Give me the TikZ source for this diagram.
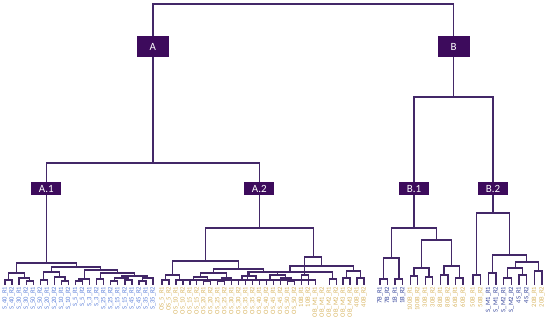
\documentclass[tikz,border=0pt]{standalone}
\usepackage{fontspec}
\setmainfont{Carlito}
\usetikzlibrary{calc}
\definecolor{linec}{HTML}{432868}
\definecolor{boxc}{HTML}{3D0B5C}
\definecolor{lblue}{HTML}{5F82DA}
\definecolor{dblue}{HTML}{39489C}
\definecolor{ylw}{HTML}{D8B562}
\tikzset{
  br/.style={linec,line width=1.3pt},
  hub/.style={fill=boxc,text=white,minimum width=32pt,minimum height=21pt,inner sep=0pt,font=\fontsize{11}{13}\selectfont},
  sub/.style={fill=boxc,text=white,minimum width=30pt,minimum height=13pt,inner sep=0pt,font=\fontsize{11}{13}\selectfont},
  lbl/.style={rotate=90,anchor=east,inner sep=0pt,font=\fontsize{6.6}{7}\selectfont}
}

\begin{document}
\begin{tikzpicture}[x=1pt,y=-1pt]
\useasboundingbox (0,0) rectangle (550,320);
% leaves of A.1
\foreach \txt [count=\i from 0] in {S\_40\_R1,S\_40\_R2,S\_30\_R1,S\_30\_R2,S\_50\_R1,S\_50\_R2,S\_20\_R1,S\_20\_R2,S\_10\_R1,S\_10\_R2,S\_5\_R1,S\_5\_R2,S\_3\_R1,S\_3\_R2,S\_25\_R1,S\_25\_R2,S\_15\_R1,S\_15\_R2,S\_45\_R1,S\_45\_R2,S\_35\_R1,S\_35\_R2}{
  \coordinate (a\i) at ({5+7.05*\i},285);
  \node[lbl,text=lblue] (ta\i) at ([yshift=-1.5pt]a\i) {\txt};}
% leaves of A.2
\foreach \txt [count=\i from 0] in {OS\_5\_R1,OS\_5\_R2,OS\_10\_R1,OS\_10\_R2,OS\_15\_R1,OS\_15\_R2,OS\_20\_R1,OS\_20\_R2,OS\_25\_R1,OS\_25\_R2,OS\_30\_R1,OS\_30\_R2,OS\_35\_R1,OS\_35\_R2,OS\_40\_R1,OS\_40\_R2,OS\_45\_R1,OS\_45\_R2,OS\_50\_R1,OS\_50\_R2,10B\_R1,10B\_R2,OB\_M1\_R1,OB\_M1\_R2,OB\_M2\_R1,OB\_M2\_R2,OB\_M3\_R1,OB\_M3\_R2,40B\_R1,40B\_R2}{
  \coordinate (b\i) at ({162+6.966*\i},285);
  \node[lbl,text=ylw] (tb\i) at ([yshift=-1.5pt]b\i) {\txt};}
% leaves of B.1
\foreach \txt/\col [count=\i from 0] in {7B\_R1/dblue,7B\_R2/dblue,1B\_R1/dblue,1B\_R2/dblue,100B\_R1/ylw,100B\_R2/ylw,30B\_R1/ylw,30B\_R2/ylw,80B\_R1/ylw,80B\_R2/ylw,60B\_R1/ylw,60B\_R2/ylw}{
  \coordinate (c\i) at ({380+7.545*\i},285);
  \node[lbl,text=\col] (tc\i) at ([yshift=-1.5pt]c\i) {\txt};}
% leaves of B.2
\foreach \txt/\col [count=\i from 0] in {50B\_R1/ylw,50B\_R2/ylw,S\_M1\_R1/dblue,S\_M1\_R2/dblue,S\_M2\_R1/dblue,S\_M2\_R2/dblue,4S\_R1/dblue,4S\_R2/dblue,20B\_R1/ylw,20B\_R2/ylw}{
  \coordinate (d\i) at ({473+7.667*\i},285);
  \node[lbl,text=\col] (td\i) at ([yshift=-1.5pt]d\i) {\txt};}
% merges: name/left/right/height
\foreach \nm/\lft/\rgt/\hy in {
  a01/a0/a1/280, a34/a3/a4/281, a234/a2/a34/278, aL/a01/a234/273,
  a56/a5/a6/280, a89/a8/a9/281, a789/a7/a89/277, aM/a56/a789/272,
  a1011/a10/a11/281, a1012/a1011/a12/279, a1314/a13/a14/279,
  a1516/a15/a16/281, a1718/a17/a18/280, a1518/a1516/a1718/278,
  a1920/a19/a20/281, a1921/a1920/a21/278, a1521/a1518/a1921/276,
  a1321/a1314/a1521/273, aN/a1012/a1321/270, aR/aM/aN/267, A1/aL/aR/263,
  b01/b0/b1/280, b23/b2/b3/280, b03/b01/b23/275,
  b45/b4/b5/280, b67/b6/b7/281, b47/b45/b67/277,
  b89/b8/b9/281, b810/b89/b10/278, b410/b47/b810/273,
  b1112/b11/b12/280, b1314/b13/b14/280, b1114/b1112/b1314/276,
  b1516/b15/b16/280, b1819/b18/b19/281, b1719/b17/b1819/278,
  b1519/b1516/b1719/275, b1119/b1114/b1519/272, b419/b410/b1119/269,
  bL/b03/b419/261,
  b2021/b20/b21/275, b2223/b22/b23/280, b2425/b24/b25/279,
  b2225/b2223/b2425/272, b2627/b26/b27/278, b2829/b28/b29/278,
  b2629/b2627/b2829/271, b2229/b2225/b2629/266, bR/b2021/b2229/257,
  A2/bL/bR/228,
  c01/c0/c1/279, c23/c2/c3/279, cL/c01/c23/258,
  c45/c4/c5/276, c67/c6/c7/277, c47/c45/c67/268,
  c89/c8/c9/275, c1011/c10/c11/278, c811/c89/c1011/266,
  cR/c47/c811/240, B1/cL/cR/228,
  d01/d0/d1/275, d23/d2/d3/273, d45/d4/d5/278, d67/d6/d7/275,
  d47/d45/d67/268, d89/d8/d9/271, d49/d47/d89/262, dR/d23/d49/255,
  B2/d01/dR/213,
  A/A1/A2/163, B/B1/B2/97, top/A/B/4}{
  \coordinate (\nm) at ($(\lft |- 0,\hy)!.5!(\rgt |- 0,\hy)$);
  \draw[br] (\lft) |- (\nm) -| (\rgt);}
% cluster boxes
\node[hub] (bxA) at (A |- 0,47) {A};
\node[hub] (bxB) at (B |- 0,47) {B};
\node[sub] (bxA1) at (A1 |- 0,189) {A.1};
\node[sub] (bxA2) at (A2 |- 0,189) {A.2};
\node[sub] (bxB1) at (B1 |- 0,189) {B.1};
\node[sub] (bxB2) at (B2 |- 0,189) {B.2};
\end{tikzpicture}
\end{document}
